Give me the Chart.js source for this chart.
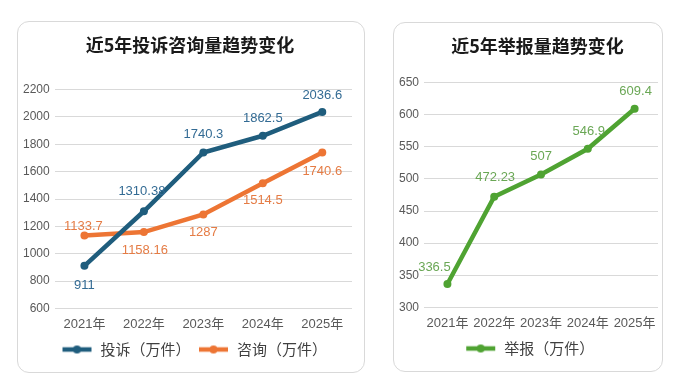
<!DOCTYPE html>
<html>
<head>
<meta charset="utf-8">
<script src="https://cdn.jsdelivr.net/npm/chart.js@4.4.1/dist/chart.umd.min.js"></script>
<style>
  body { margin: 0; background: #fff; width: 680px; height: 392px; position: relative; overflow: hidden; }
  .panel { position: absolute; border: 1px solid #d9d9d9; border-radius: 12px; background: #fff; box-sizing: border-box; }
  #left { left: 17px; top: 21px; width: 348px; height: 352px; }
  #right { left: 393px; top: 22px; width: 270px; height: 350px; }
</style>
</head>
<body>
<div class="panel" id="left"><canvas id="chart-left"></canvas></div>
<div class="panel" id="right"><canvas id="chart-right"></canvas></div>
<script>
const years = ['2021年', '2022年', '2023年', '2024年', '2025年']
const complaints = [911, 1310.38, 1740.3, 1862.5, 2036.6]
const consults = [1133.7, 1158.16, 1287, 1514.5, 1740.6]
const reports = [336.5, 472.23, 507, 546.9, 609.4]
const leftTicks = [600, 2200, 200]
const rightTicks = [300, 650, 50]

const FONT = '"Liberation Sans", Arial, "Noto Sans CJK SC", sans-serif'
const CJK = '"Noto Sans CJK SC", "Liberation Sans", sans-serif'

const legendMark = (color) => {
  const c = document.createElement('canvas')
  c.width = 31
  c.height = 10
  const g = c.getContext('2d')
  g.strokeStyle = color
  g.lineWidth = 4.5
  g.beginPath()
  g.moveTo(1, 5)
  g.lineTo(30, 5)
  g.stroke()
  g.fillStyle = color
  g.beginPath()
  g.arc(15.5, 5, 4, 0, Math.PI * 2)
  g.fill()
  return c
}

// draws value labels next to each point, offsets come from dataset.labelOffsets
const valueLabels = {
  id: 'valueLabels',
  afterLayout (chart, args, opts) {
    // nudge title and legend sideways
    if (chart.titleBlock && opts.titleShift) {
      chart.titleBlock.left += opts.titleShift
      chart.titleBlock.right += opts.titleShift
    }
    if (chart.legend && opts.legendShift) {
      chart.legend.left += opts.legendShift
      chart.legend.right += opts.legendShift
    }
  },
  afterDatasetsDraw (chart) {
    const ctx = chart.ctx
    chart.data.datasets.forEach((ds, i) => {
      const meta = chart.getDatasetMeta(i)
      ctx.save()
      ctx.font = '13px ' + FONT
      ctx.fillStyle = ds.labelColor
      ctx.textAlign = 'center'
      ctx.textBaseline = 'middle'
      meta.data.forEach((pt, j) => {
        const off = ds.labelOffsets[j]
        ctx.fillText(String(ds.data[j]), pt.x + off[0], pt.y + off[1])
      })
      ctx.restore()
    })
  }
}

const makeOptions = (title, ticks, titlePad, pad, shift, legendShift) => ({
  responsive: true,
  maintainAspectRatio: false,
  animation: false,
  layout: { padding: pad },
  plugins: {
    valueLabels: { titleShift: shift, legendShift },
    title: {
      display: true,
      text: title,
      color: '#1a1a1a',
      font: { family: CJK, size: 18, weight: 'bold' },
      padding: { top: 12, bottom: titlePad }
    },
    legend: {
      position: 'bottom',
      labels: {
        usePointStyle: true,
        pointStyleWidth: 32,
        color: '#404040',
        font: { family: CJK, size: 15 },
        padding: 7
      }
    },
    tooltip: { enabled: false }
  },
  scales: {
    x: {
      offset: true,
      grid: { display: false },
      border: { display: false },
      ticks: { color: '#595959', font: { family: FONT, size: 13 }, padding: 0, maxRotation: 0 },
      afterFit: (s) => {
        s.paddingLeft = 0
        s.paddingRight = 0
        s.height += 3
      }
    },
    y: {
      min: ticks[0],
      max: ticks[1],
      grid: { color: '#d9d9d9', drawTicks: false },
      border: { display: false },
      ticks: {
        stepSize: ticks[2],
        color: '#595959',
        font: { family: FONT, size: 12 },
        padding: 5,
        callback: (v) => String(v)
      }
    }
  }
})

const lineSet = (label, data, color, labelColor, offsets) => ({
  label,
  data,
  borderColor: color,
  backgroundColor: color,
  borderWidth: 4.5,
  pointRadius: 4,
  pointBackgroundColor: color,
  pointBorderWidth: 0,
  pointStyle: 'circle',
  tension: 0,
  labelColor,
  labelOffsets: offsets,
  legendColor: color
})

const leftData = {
  labels: years,
  datasets: [
    lineSet('投诉（万件）', complaints, '#1f5d7d', '#336b94',
      [[0, 20], [-2, -20], [0, -18], [0, -17], [0, -17]]),
    lineSet('咨询（万件）', consults, '#ed7534', '#e57c45',
      [[-1, -9], [1, 18], [0, 18], [0, 17], [0, 19]])
  ]
}

const rightData = {
  labels: years,
  datasets: [
    lineSet('举报（万件）', reports, '#4fa332', '#6aa755',
      [[-13, -17], [1, -19], [0, -18], [1, -17], [1, -17]])
  ]
}

const makeChart = (id, data, options) => {
  options.plugins.legend.labels.generateLabels = (chart) => {
    return chart.data.datasets.map((ds, i) => ({
      text: ds.label,
      pointStyle: legendMark(ds.legendColor),
      fontColor: '#404040',
      lineWidth: 0,
      datasetIndex: i
    }))
  }
  return new Chart(document.getElementById(id), {
    type: 'line',
    data,
    options,
    plugins: [valueLabels]
  })
}

makeChart('chart-left', leftData,
  makeOptions('近5年投诉咨询量趋势变化', leftTicks, 34, { left: 0, right: 12, bottom: 5 }, 5, 9))
makeChart('chart-right', rightData,
  makeOptions('近5年举报量趋势变化', rightTicks, 26, { left: 0, right: 1, bottom: 5 }, 10, 2))
</script>
</body>
</html>
